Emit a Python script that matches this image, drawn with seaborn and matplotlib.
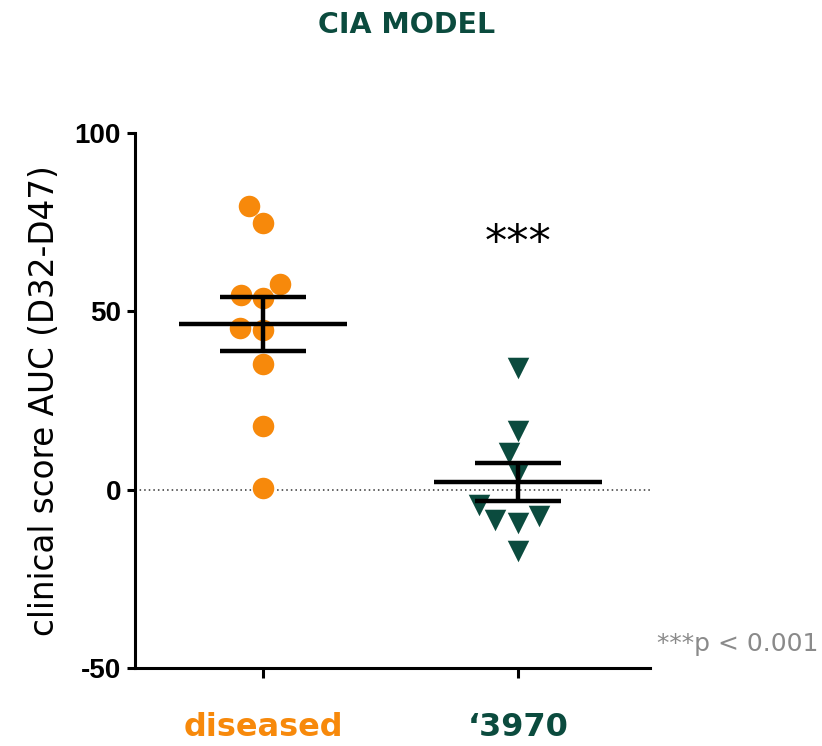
import numpy as np
import pandas as pd
import matplotlib
matplotlib.use("Agg")
import matplotlib.pyplot as plt
import seaborn as sns

# values (clinical score AUC, D32-D47)
groups = ["diseased", "\u20183970"]
diseased_scores = [79.5, 74.8, 57.7, 53.8, 54.6, 45.4, 44.8, 35.3, 17.9, 0.5]
compound_scores = [34.0, 16.5, 10.2, 4.6, -4.4, -8.6, -9.4, -7.4, -17.2]
y_ticks = [-50, 0, 50, 100]

orange = "#f7890b"
green = "#0b4b3e"
colors = [orange, green]
markers = ["o", "v"]

df = pd.DataFrame({
    "group": [groups[0]] * len(diseased_scores) + [groups[1]] * len(compound_scores),
    "score": diseased_scores + compound_scores,
})

sns.set_style("white")
plt.rcParams["font.family"] = ["DejaVu Sans"]

fig = plt.figure(figsize=(8.22, 7.46), dpi=100)
ax = fig.add_axes([0.1642, 0.1046, 0.6265, 0.7171])

for g, c, m in zip(groups, colors, markers):
    sns.swarmplot(data=df[df["group"] == g], x="group", y="score", order=groups,
                  color=c, marker=m, size=15.5, linewidth=0, ax=ax, zorder=2)

# mean +/- SEM
stats = df.groupby("group")["score"].agg(["mean", "sem"])
for i, g in enumerate(groups):
    mu, se = stats.loc[g, "mean"], stats.loc[g, "sem"]
    ax.hlines(mu, i - 0.33, i + 0.33, color="black", lw=3.2, zorder=4)
    ax.hlines([mu - se, mu + se], i - 0.17, i + 0.17, color="black", lw=3.2, zorder=4)
    ax.vlines(i, mu - se, mu + se, color="black", lw=3.2, zorder=4)

ax.axhline(0, color="#333333", lw=1.1, ls=(0, (1, 2)), zorder=1)

ax.set_xlim(-0.502, 1.518)
ax.set_ylim(-50, 100)
ax.set_yticks(y_ticks)
ax.set_yticklabels([str(t) for t in y_ticks], fontfamily="Liberation Sans",
                   fontweight="bold", fontsize=20, color="black")
ax.set_xticks([0, 1])
ax.set_xticklabels(groups, fontweight="bold", fontsize=23)
for lbl, c in zip(ax.get_xticklabels(), colors):
    lbl.set_color(c)

sns.despine(ax=ax)
for side in ["left", "bottom"]:
    ax.spines[side].set_linewidth(2.2)
    ax.spines[side].set_color("black")
ax.tick_params(axis="y", direction="out", length=6, width=2.2, pad=4, left=True,
               color="black")
ax.tick_params(axis="x", direction="out", length=7.5, width=2.2, pad=24, bottom=True,
               color="black")

ax.set_xlabel("")
ax.set_ylabel("clinical score AUC (D32-D47)", fontsize=23.5, labelpad=10,
              color="black")

ax.text(1, 65.5, "***", ha="center", va="baseline", fontsize=32, color="black")

fig.text(0.495, 0.966, "CIA MODEL", ha="center", va="center",
         fontsize=20.5, fontweight="bold", color=green)
fig.text(0.995, 0.128, "***p < 0.001", ha="right", va="baseline",
         fontsize=18, color="#8a8a8a")

fig.savefig("out.png", dpi=100)
